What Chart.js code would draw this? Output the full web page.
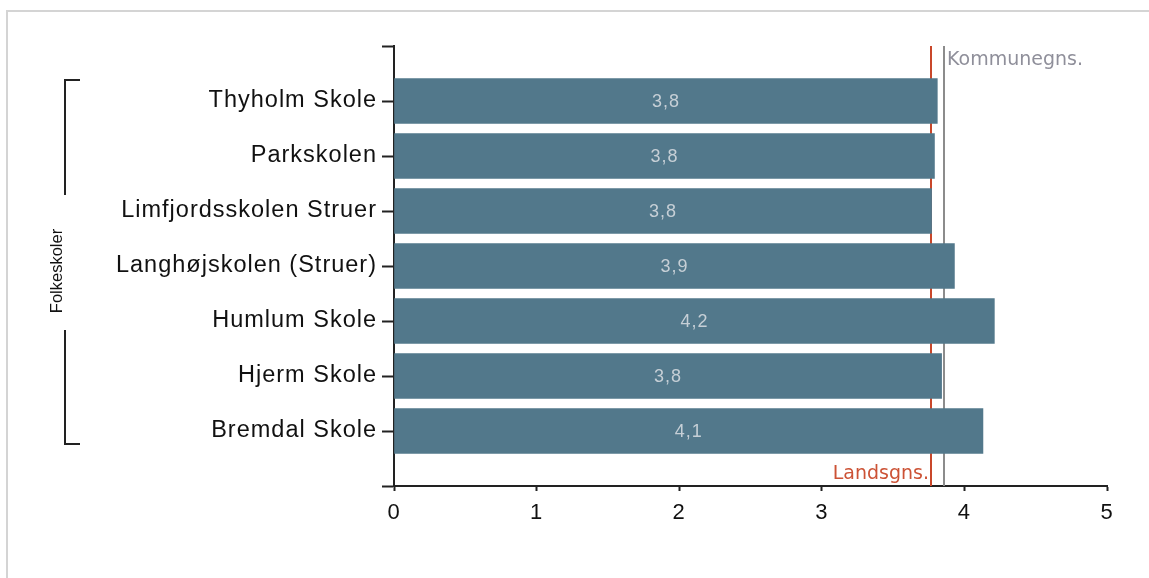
<!DOCTYPE html>
<html>
<head>
<meta charset="utf-8">
<script src="https://cdn.jsdelivr.net/npm/chart.js@4/dist/chart.umd.min.js"></script>
<style>
  html, body { margin: 0; padding: 0; background: #fff; }
  #wrap { position: relative; width: 1149px; height: 578px; }
</style>
</head>
<body>
<div id="wrap"><canvas id="c" width="1149" height="578"></canvas></div>
<script>
const schools = ['Thyholm Skole', 'Parkskolen', 'Limfjordsskolen Struer', 'Langhøjskolen (Struer)', 'Humlum Skole', 'Hjerm Skole', 'Bremdal Skole'];
const scores = [3.81, 3.79, 3.77, 3.93, 4.21, 3.84, 4.13];
const landsgns = 3.766;
const kommunegns = 3.86;
const xTicks = [0, 1, 2, 3, 4, 5];
const groupLabel = 'Folkeskoler';
const landsLabel = 'Landsgns.';
const kommuneLabel = 'Kommunegns.';

const labels = [''].concat(schools, ['']);
const values = [null].concat(scores, [null]);

const fmt = v => v.toFixed(1).replace('.', ',');

const deco = {
  id: 'deco',
  beforeDraw(chart) {
    const ctx = chart.ctx;
    ctx.save();
    ctx.fillStyle = '#fff';
    ctx.fillRect(0, 0, chart.width, chart.height);
    ctx.strokeStyle = '#d4d4d4';
    ctx.lineWidth = 2;
    ctx.beginPath();
    ctx.moveTo(7, 578); ctx.lineTo(7, 11); ctx.lineTo(1149, 11);
    ctx.stroke();
    ctx.restore();
    ctx.letterSpacing = '1px';
  },
  beforeDatasetsDraw(chart) {
    const ctx = chart.ctx;
    const xs = chart.scales.x;
    const a = chart.chartArea;
    ctx.save();
    ctx.letterSpacing = '0px';
    const xl = Math.round(xs.getPixelForValue(landsgns));
    const xk = Math.round(xs.getPixelForValue(kommunegns));
    ctx.lineWidth = 2;
    ctx.strokeStyle = '#c9472a';
    ctx.beginPath(); ctx.moveTo(xl, a.top); ctx.lineTo(xl, a.bottom); ctx.stroke();
    ctx.strokeStyle = '#8c8c8c';
    ctx.beginPath(); ctx.moveTo(xk, a.top); ctx.lineTo(xk, a.bottom); ctx.stroke();
    ctx.font = '19px "DejaVu Sans"';
    ctx.textBaseline = 'middle';
    ctx.fillStyle = '#8f8f9a';
    ctx.textAlign = 'left';
    ctx.fillText(kommuneLabel, xk + 3, a.top + 14);
    ctx.fillStyle = '#cc5235';
    ctx.textAlign = 'right';
    ctx.fillText(landsLabel, xl - 2, a.bottom - 12);
    ctx.restore();
  },
  afterDatasetsDraw(chart) {
    const ctx = chart.ctx;
    const meta = chart.getDatasetMeta(0);
    ctx.save();
    ctx.letterSpacing = '1px';
    ctx.font = '18px "Liberation Sans"';
    ctx.fillStyle = '#c6cfd6';
    ctx.textAlign = 'center';
    ctx.textBaseline = 'middle';
    meta.data.forEach((el, i) => {
      const v = values[i];
      if (v === null || v === undefined) return;
      ctx.fillText(fmt(v), (el.x + el.base) / 2, el.y + 1);
    });
    // group bracket
    ctx.strokeStyle = '#222';
    ctx.lineWidth = 2;
    ctx.beginPath();
    ctx.moveTo(80, 80); ctx.lineTo(65, 80); ctx.lineTo(65, 195);
    ctx.moveTo(65, 330); ctx.lineTo(65, 444); ctx.lineTo(80, 444);
    ctx.stroke();
    ctx.translate(57, 271);
    ctx.rotate(-Math.PI / 2);
    ctx.letterSpacing = '0px';
    ctx.font = '16.5px "Liberation Sans"';
    ctx.fillStyle = '#111';
    ctx.textAlign = 'center';
    ctx.textBaseline = 'middle';
    ctx.fillText(groupLabel, 0, 0);
    ctx.restore();
  }
};

new Chart(document.getElementById('c'), {
  type: 'bar',
  data: {
    labels: labels,
    datasets: [{
      data: values,
      backgroundColor: '#52788b',
      borderWidth: 0,
      barThickness: 45
    }]
  },
  options: {
    indexAxis: 'y',
    responsive: false,
    animation: false,
    devicePixelRatio: 1,
    layout: { padding: { top: 46, right: 42, left: 0, bottom: 0 } },
    plugins: { legend: { display: false }, tooltip: { enabled: false } },
    scales: {
      y: {
        type: 'category',
        offset: false,
        afterFit(s) { s.width = 394; },
        grid: { display: true, offset: false, drawOnChartArea: false, drawTicks: true, tickLength: 12, tickWidth: 2, tickColor: '#222' },
        border: { display: true, color: '#222', width: 2 },
        ticks: { color: '#111', padding: 5, autoSkip: false, font: { family: '"Liberation Sans"', size: 23.5 } }
      },
      x: {
        type: 'linear',
        min: 0, max: 5,
        afterFit(s) { s.height = 92; },
        afterBuildTicks(s) { s.ticks = xTicks.map(v => ({ value: v })); },
        grid: { display: true, drawOnChartArea: false, drawTicks: true, tickLength: 5, tickWidth: 2, tickColor: '#222' },
        border: { display: true, color: '#222', width: 2 },
        ticks: { color: '#111', padding: 9, font: { family: '"Liberation Sans"', size: 22 } }
      }
    }
  },
  plugins: [deco]
});
</script>
</body>
</html>
